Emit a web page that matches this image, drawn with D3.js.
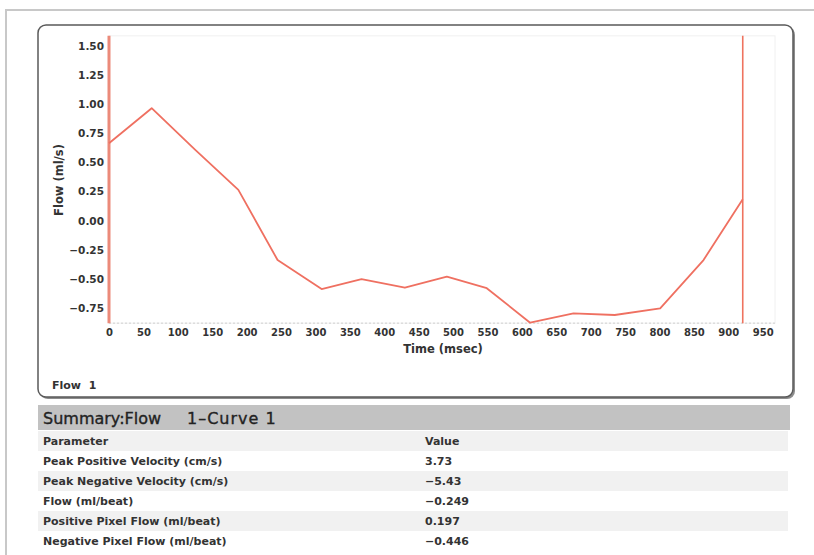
<!DOCTYPE html>
<meta charset="utf-8">
<script src="https://d3js.org/d3.v7.min.js"></script>
<style>
  body { margin: 0; background: #fff; }
  text { font-family: "DejaVu Sans", sans-serif; }
</style>
<body>
<div id="canvas"></div>
<script>

	// curva de fluxo (tempo em msec, fluxo em ml/s)
	var times = [0, 62, 125, 188, 245, 309, 367, 430, 491, 549, 612, 675, 735, 801, 864, 921];
	var flow  = [0.665, 0.966, 0.61, 0.264, -0.338, -0.587, -0.503, -0.576, -0.481, -0.58, -0.876, -0.796, -0.81, -0.753, -0.338, 0.184];
	var cursors = [0, 921];

	var xTicks = [0, 50, 100, 150, 200, 250, 300, 350, 400, 450, 500, 550, 600, 650, 700, 750, 800, 850, 900, 950];
	var yTicks = [1.50, 1.25, 1.00, 0.75, 0.50, 0.25, 0.00, -0.25, -0.50, -0.75];

	// tabela de resumo
	var params = ["Parameter", "Peak Positive Velocity (cm/s)", "Peak Negative Velocity (cm/s)", "Flow (ml/beat)", "Positive Pixel Flow (ml/beat)", "Negative Pixel Flow (ml/beat)"];
	var values = ["Value", "3.73", "-5.43", "-0.249", "0.197", "-0.446"];

	var width = 814;
	var height = 555;

	var svg = d3.select('#canvas')
		.append("svg")
		.attr("width", width)
		.attr("height", height);

	// moldura externa
	svg.append("path")
		.attr("d", "M6,555 L6,10 L814,10")
		.attr("fill", "none")
		.attr("stroke", "#c8c8c8")
		.attr("stroke-width", 2);

	// painel do grafico
	var panel = {x: 38, y: 25, w: 755, h: 372};
	svg.append("rect")
		.attr("x", panel.x + 2).attr("y", panel.y + 2)
		.attr("width", panel.w).attr("height", panel.h)
		.attr("rx", 8)
		.attr("fill", "#8c8c8c");
	svg.append("rect")
		.attr("x", panel.x).attr("y", panel.y)
		.attr("width", panel.w).attr("height", panel.h)
		.attr("rx", 8)
		.attr("fill", "#fff")
		.attr("stroke", "#5a5a5a")
		.attr("stroke-width", 1.5);

	var x = d3.scaleLinear()
		.domain([0, 950])
		.range([109, 762.7]);
	var y = d3.scaleLinear()
		.domain([-0.75, 1.50])
		.range([308, 46]);

	var yTop = y(1.587), yBottom = y(-0.88);

	// area do plot (borda clarinha)
	svg.append("rect")
		.attr("x", x(0)).attr("y", yTop)
		.attr("width", 775 - x(0)).attr("height", yBottom - yTop)
		.attr("fill", "none")
		.attr("stroke", "#f0f0f0");

	// linha pontilhada no eixo X
	svg.append("line")
		.attr("x1", x(0)).attr("x2", 775)
		.attr("y1", yBottom).attr("y2", yBottom)
		.attr("stroke", "#d0d0d0")
		.attr("stroke-dasharray", "2,2");

	// eixo Y
	var yAxis = d3.axisLeft(y)
		.tickValues(yTicks)
		.tickSize(0)
		.tickPadding(4)
		.tickFormat(d3.format(".2f"));
	var gy = svg.append("g")
		.attr("transform", "translate(" + (x(0) - 1) + ",0)")
		.call(yAxis);
	gy.select(".domain").remove();
	gy.selectAll("text")
		.style("font-family", "DejaVu Sans")
		.style("font-size", "10.5px")
		.style("font-weight", "bold")
		.attr("fill", "#333");

	// eixo X
	var xAxis = d3.axisBottom(x)
		.tickValues(xTicks)
		.tickSize(0)
		.tickPadding(6);
	var gx = svg.append("g")
		.attr("transform", "translate(0," + yBottom + ")")
		.call(xAxis);
	gx.select(".domain").remove();
	gx.selectAll("text")
		.style("font-family", "DejaVu Sans")
		.style("font-size", "10px")
		.style("font-weight", "bold")
		.attr("fill", "#333");

	svg.append("text")
		.attr("x", 443).attr("y", 353)
		.attr("text-anchor", "middle")
		.style("font-size", "11.5px")
		.style("font-weight", "bold")
		.attr("fill", "#333")
		.text("Time (msec)");

	svg.append("text")
		.attr("transform", "translate(63,180) rotate(-90)")
		.attr("text-anchor", "middle")
		.style("font-size", "11.5px")
		.style("font-weight", "bold")
		.attr("fill", "#333")
		.text("Flow (ml/s)");

	// cursores verticais
	svg.selectAll(".cursor")
		.data(cursors)
		.enter()
		.append("line")
		.attr("class", "cursor")
		.attr("x1", function(d){ return x(d); })
		.attr("x2", function(d){ return x(d); })
		.attr("y1", yTop)
		.attr("y2", yBottom)
		.attr("stroke", function(d,i){ return i == 0 ? "#eb8a7a" : "#ef735f"; })
		.attr("stroke-width", function(d,i){ return i == 0 ? 3 : 1.6; });

	// a curva
	var line = d3.line()
		.x(function(d,i){ return x(times[i]); })
		.y(function(d){ return y(d); });
	svg.append("path")
		.datum(flow)
		.attr("d", line)
		.attr("fill", "none")
		.attr("stroke", "#ef7061")
		.attr("stroke-width", 1.8)
		.attr("stroke-linejoin", "round");

	svg.append("text")
		.attr("x", 52).attr("y", 389)
		.style("font-size", "11px")
		.style("font-weight", "bold")
		.attr("fill", "#333")
		.attr("xml:space", "preserve")
		.text("Flow  1");

	// resumo
	svg.append("rect")
		.attr("x", 38).attr("y", 405)
		.attr("width", 752).attr("height", 25)
		.attr("fill", "#c2c2c2");
	var title = svg.append("text")
		.attr("x", 43).attr("y", 424)
		.style("font-size", "16px")
		.attr("fill", "#222")
		.attr("stroke", "#222")
		.attr("stroke-width", 0.35);
	title.append("tspan").text("Summary:Flow ");
	title.append("tspan")
		.attr("x", 187)
		.style("letter-spacing", "1px")
		.text("1\u2013Curve 1");

	var rowH = 20;
	var rows = svg.selectAll(".row")
		.data(params)
		.enter()
		.append("g")
		.attr("class", "row")
		.attr("transform", function(d,i){ return "translate(38," + (431 + i*rowH) + ")"; });
	rows.append("rect")
		.attr("width", 750)
		.attr("height", rowH)
		.attr("fill", function(d,i){ return i % 2 == 0 ? "#f1f1f1" : "#fff"; });
	rows.append("text")
		.attr("x", 5).attr("y", 14)
		.style("font-size", "11px")
		.style("font-weight", "bold")
		.attr("fill", "#333")
		.text(function(d){ return d; });
	rows.append("text")
		.attr("x", 387).attr("y", 14)
		.style("font-size", "11px")
		.style("font-weight", "bold")
		.attr("fill", "#333")
		.text(function(d,i){ return values[i].replace("-", "\u2212"); });

</script>
</body>
